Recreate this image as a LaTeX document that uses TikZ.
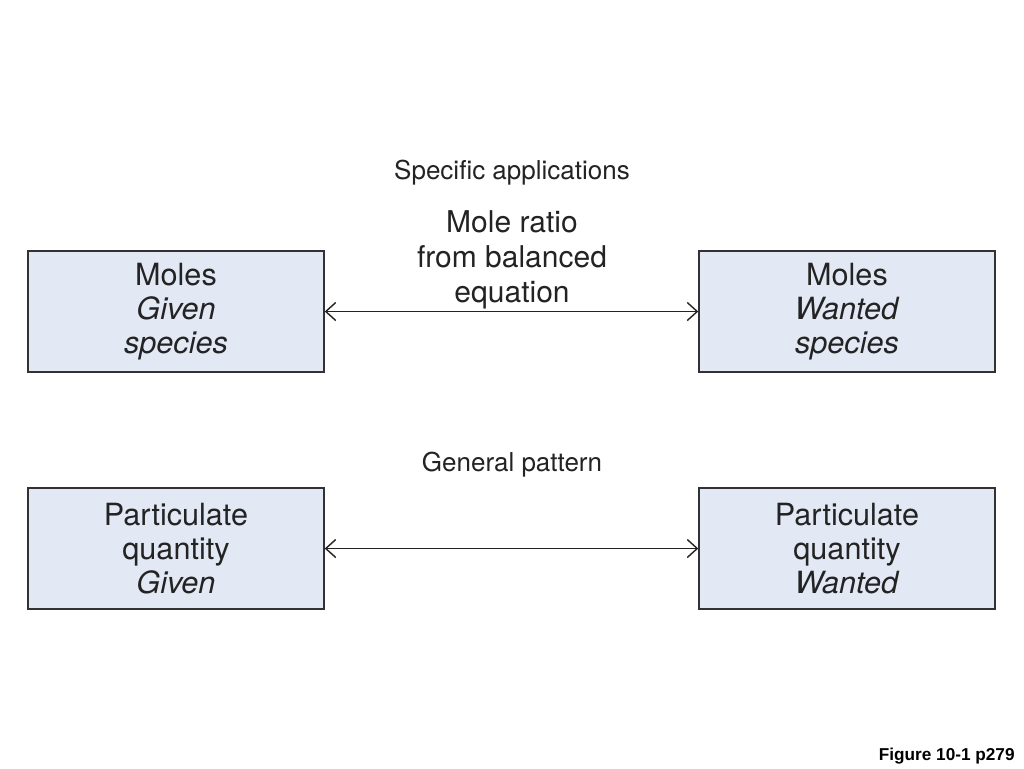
\documentclass[tikz,border=0pt]{standalone}
\usepackage{fontspec}
\setmainfont{TeX Gyre Heros}
\newfontfamily\capfont{Liberation Sans}
\usetikzlibrary{arrows.meta, positioning}
\definecolor{boxfill}{RGB}{226,232,244}
\definecolor{boxline}{RGB}{50,50,50}
\definecolor{textdark}{RGB}{35,35,35}
\tikzset{
    box/.style={rectangle, minimum width=148pt, minimum height=60.5pt,
                text centered, align=center, draw=boxline, fill=boxfill,
                line width=0.7pt, text=textdark, font=\fontsize{15.3}{17}\selectfont},
    heading/.style={text=textdark, font=\fontsize{13}{15}\selectfont},
    arrow/.style={line width=0.7pt, textdark, {Straight Barb[length=5pt,width=9pt]}-{Straight Barb[length=5pt,width=9pt]}}
}
\begin{document}
\begin{tikzpicture}[x=0.5pt, y=-0.5pt]
    \useasboundingbox[fill=white] (0,0) rectangle (1024,768);

    % Specific applications
    \node[heading] (spec) at (512,173) {Specific applications};
    \node[box] (molgiven) at (176,311.5) {Moles\\\textit{Given}\\\textit{species}};
    \node[box] (molwanted) at (847,311.5) {Moles\\\textit{Wanted}\\\textit{species}};
    \draw[arrow] (molgiven) -- (molwanted);
    \node[text=textdark, align=center, font=\fontsize{15}{17.5}\selectfont] (ratio) at (512,260)
        {Mole ratio\\from balanced\\equation};

    % General pattern
    \node[heading] (gen) at (512,465) {General pattern};
    \node[box] (partgiven) at (176,548.5) {Particulate\\quantity\\\textit{Given}};
    \node[box] (partwanted) at (847,548.5) {Particulate\\quantity\\\textit{Wanted}};
    \draw[arrow] (partgiven) -- (partwanted);

    % Caption
    \node[anchor=east, inner sep=0pt, font=\capfont\bfseries\fontsize{8.6}{10}\selectfont] (caption) at (1015,756) {Figure 10-1 p279};
\end{tikzpicture}
\end{document}
